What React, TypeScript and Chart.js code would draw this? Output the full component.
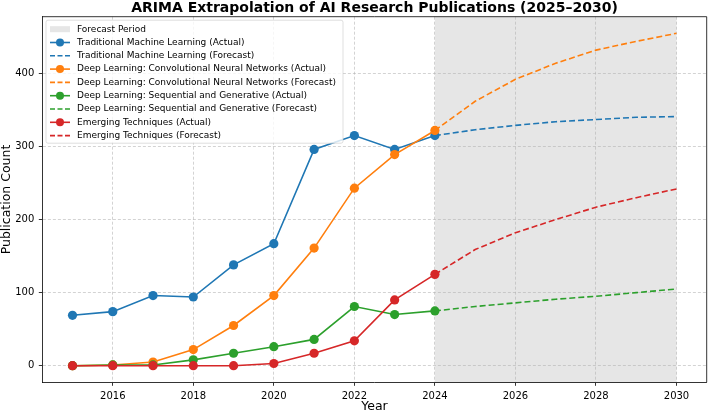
import React, { useEffect, useRef } from 'react';
import { Chart, registerables } from 'chart.js';

Chart.register(...registerables);

const FONT = "'DejaVu Sans', sans-serif";

// ---- data ----
const actualYears = [2015, 2016, 2017, 2018, 2019, 2020, 2021, 2022, 2023, 2024];
const forecastYears = [2024, 2025, 2026, 2027, 2028, 2029, 2030];

const tradActual = [69, 74, 96, 94, 138, 167, 296, 315, 296, 315];
const tradForecast = [315, 323, 329, 334, 337, 340, 341];

const cnnActual = [0, 1, 5, 22, 55, 96, 161, 243, 289, 322];
const cnnForecast = [322, 362, 392, 414, 432, 444, 455];

const seqActual = [0, 1, 1, 8, 17, 26, 36, 81, 70, 75];
const seqForecast = [75, 81, 86, 91, 95, 100, 105];

const emergActual = [0, 0, 0, 0, 0, 3, 17, 34, 90, 125];
const emergForecast = [125, 159, 182, 200, 217, 230, 242];

const seriesNames = [
  'Traditional Machine Learning',
  'Deep Learning: Convolutional Neural Networks',
  'Deep Learning: Sequential and Generative',
  'Emerging Techniques',
];
const seriesColors = ['#1f77b4', '#ff7f0e', '#2ca02c', '#d62728'];
const seriesActual = [tradActual, cnnActual, seqActual, emergActual];
const seriesForecast = [tradForecast, cnnForecast, seqForecast, emergForecast];

const xTicks = [2016, 2018, 2020, 2022, 2024, 2026, 2028, 2030];
const yTicks = [0, 100, 200, 300, 400];
const forecastStart = 2024;
const forecastEnd = 2030;

const titleText = 'ARIMA Extrapolation of AI Research Publications (2025–2030)';
const shadeColor = 'rgba(128,128,128,0.2)';

type Item = { kind: 'patch' | 'actual' | 'forecast'; color: string; label: string };
const legendItems: Item[] = [{ kind: 'patch', color: shadeColor, label: 'Forecast Period' }];
seriesNames.forEach((n, i) => {
  legendItems.push({ kind: 'actual', color: seriesColors[i], label: `${n} (Actual)` });
  legendItems.push({ kind: 'forecast', color: seriesColors[i], label: `${n} (Forecast)` });
});

const overlayPlugin = {
  id: 'overlay',
  beforeDraw(chart: any) {
    const { ctx, chartArea, scales } = chart;
    const x0 = scales.x.getPixelForValue(forecastStart);
    const x1 = scales.x.getPixelForValue(forecastEnd);
    ctx.save();
    ctx.fillStyle = shadeColor;
    ctx.fillRect(x0, chartArea.top, x1 - x0, chartArea.bottom - chartArea.top);
    ctx.restore();
  },
  afterDraw(chart: any) {
    const { ctx, chartArea } = chart;
    ctx.save();
    // top & right spines
    ctx.strokeStyle = '#000';
    ctx.lineWidth = 0.8;
    ctx.beginPath();
    ctx.moveTo(chartArea.left, chartArea.top);
    ctx.lineTo(chartArea.right, chartArea.top);
    ctx.lineTo(chartArea.right, chartArea.bottom);
    ctx.stroke();

    // legend
    const lx = chartArea.left + 3.7;
    const ly = chartArea.top + 3.5;
    const lw = 297;
    const lh = 123;
    ctx.beginPath();
    ctx.roundRect(lx, ly, lw, lh, 2);
    ctx.fillStyle = 'rgba(255,255,255,0.8)';
    ctx.fill();
    ctx.strokeStyle = 'rgba(204,204,204,0.8)';
    ctx.lineWidth = 0.8;
    ctx.stroke();

    const hx0 = lx + 4;
    const hx1 = hx0 + 20;
    const tx = hx1 + 7;
    ctx.font = `9px ${FONT}`;
    ctx.textBaseline = 'middle';
    ctx.textAlign = 'left';
    legendItems.forEach((it, i) => {
      const cy = ly + 9 + i * 13.3;
      if (it.kind === 'patch') {
        ctx.fillStyle = it.color;
        ctx.fillRect(hx0, cy - 3, hx1 - hx0, 6);
      } else {
        ctx.strokeStyle = it.color;
        ctx.lineWidth = 1.6;
        ctx.setLineDash(it.kind === 'forecast' ? [5, 2.5] : []);
        ctx.beginPath();
        ctx.moveTo(hx0, cy);
        ctx.lineTo(hx1, cy);
        ctx.stroke();
        ctx.setLineDash([]);
        if (it.kind === 'actual') {
          ctx.fillStyle = it.color;
          ctx.beginPath();
          ctx.arc((hx0 + hx1) / 2, cy, 4, 0, Math.PI * 2);
          ctx.fill();
        }
      }
      ctx.fillStyle = '#000';
      ctx.fillText(it.label, tx, cy);
    });
    ctx.restore();
  },
};

export default function App() {
  const ref = useRef<HTMLCanvasElement>(null);
  useEffect(() => {
    document.body.style.margin = '0';
    const datasets: any[] = [];
    seriesNames.forEach((name, i) => {
      datasets.push({
        label: `${name} (Actual)`,
        data: actualYears.map((yr, j) => ({ x: yr, y: seriesActual[i][j] })),
        borderColor: seriesColors[i],
        backgroundColor: seriesColors[i],
        pointBackgroundColor: seriesColors[i],
        pointBorderWidth: 0,
        pointRadius: 4.6,
        borderWidth: 1.6,
        tension: 0,
        fill: false,
      });
      datasets.push({
        label: `${name} (Forecast)`,
        data: forecastYears.map((yr, j) => ({ x: yr, y: seriesForecast[i][j] })),
        borderColor: seriesColors[i],
        backgroundColor: seriesColors[i],
        borderDash: [6, 3],
        pointRadius: 0,
        borderWidth: 1.6,
        tension: 0,
        fill: false,
      });
    });
    datasets.forEach((d, i) => (d.order = 100 - i));

    const gridColor = 'rgba(176,176,176,0.7)';
    const chart = new Chart(ref.current!, {
      type: 'line',
      data: { datasets },
      plugins: [overlayPlugin],
      options: {
        responsive: false,
        maintainAspectRatio: false,
        animation: false,
        layout: { autoPadding: false, padding: { left: 0, right: 2.3, top: 0, bottom: 0 } },
        plugins: {
          legend: { display: false },
          tooltip: { enabled: false },
          title: {
            display: true,
            text: titleText,
            fullSize: false,
            color: '#000',
            font: { family: FONT, size: 14, weight: 'bold', lineHeight: 1.0 },
            padding: { top: 1, bottom: 1.7 },
          },
        },
        scales: {
          x: {
            type: 'linear',
            min: 2014.25,
            max: 2030.75,
            afterBuildTicks: (s: any) => {
              s.ticks = xTicks.map((v) => ({ value: v }));
            },
            afterFit: (s: any) => {
              s.height = 31.7;
              s.paddingLeft = 0;
              s.paddingRight = 0;
            },
            ticks: {
              autoSkip: false,
              maxRotation: 0,
              padding: 4.5,
              color: '#000',
              font: { family: FONT, size: 10 },
              callback: (v: any) => String(v),
            },
            grid: {
              color: gridColor,
              lineWidth: 0.8,
              drawTicks: true,
              tickLength: 3.5,
              tickColor: '#000',
              tickWidth: 0.8,
              tickBorderDash: [],
            },
            border: { display: true, color: '#000', width: 0.8, dash: [3, 2] },
            title: {
              display: true,
              text: 'Year',
              color: '#000',
              font: { family: FONT, size: 12.5, lineHeight: 1.0 },
              padding: { top: 0, bottom: 1 },
            },
          },
          y: {
            type: 'linear',
            min: -22.75,
            max: 477.75,
            afterBuildTicks: (s: any) => {
              s.ticks = yTicks.map((v) => ({ value: v }));
            },
            afterFit: (s: any) => {
              s.width = 42.3;
              s.paddingTop = 0;
              s.paddingBottom = 0;
            },
            ticks: {
              autoSkip: false,
              padding: 4.5,
              color: '#000',
              font: { family: FONT, size: 10 },
              callback: (v: any) => String(v),
            },
            grid: {
              color: gridColor,
              lineWidth: 0.8,
              drawTicks: true,
              tickLength: 3.5,
              tickColor: '#000',
              tickWidth: 0.8,
              tickBorderDash: [],
            },
            border: { display: true, color: '#000', width: 0.8, dash: [3, 2] },
            title: {
              display: true,
              text: 'Publication Count',
              color: '#000',
              font: { family: FONT, size: 12.5, lineHeight: 1.0 },
              padding: { top: 0, bottom: 0 },
            },
          },
        },
      } as any,
    });
    return () => chart.destroy();
  }, []);

  return (
    <div style={{ position: 'absolute', left: 0, top: 0, width: 709, height: 414, background: '#fff' }}>
      <canvas ref={ref} width={709} height={414} style={{ width: '709px', height: '414px', display: 'block' }} />
    </div>
  );
}
